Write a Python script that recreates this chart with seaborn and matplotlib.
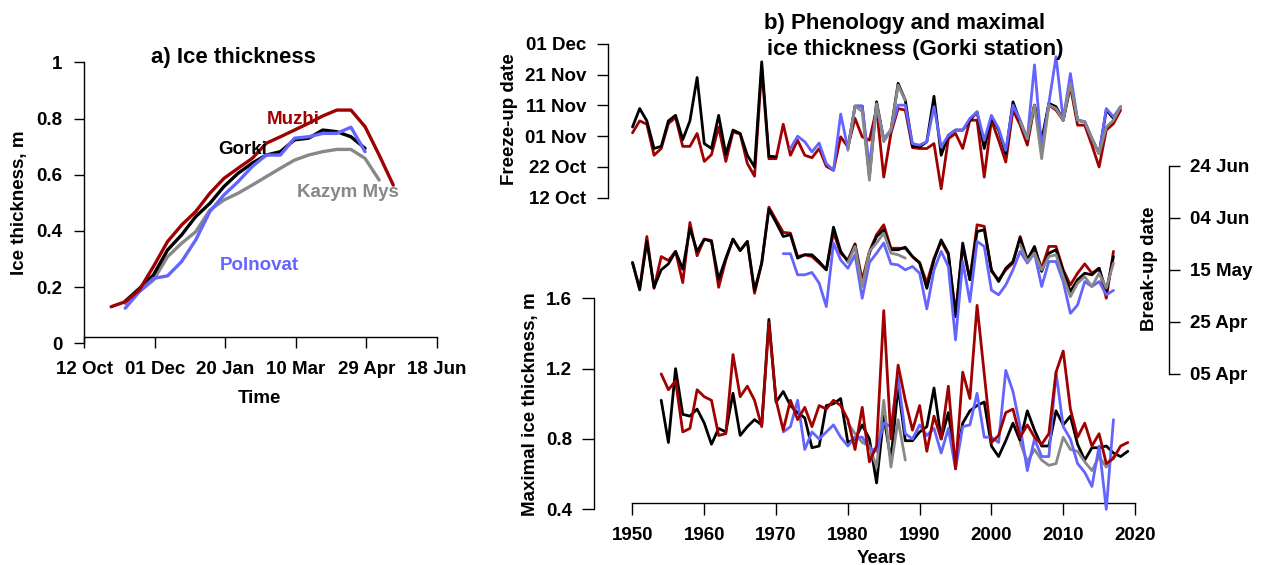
import numpy as np
import pandas as pd
import matplotlib
matplotlib.use("Agg")
import matplotlib.pyplot as plt
import seaborn as sns

# ---------------- data: panel a (ice thickness, m) ----------------
# x = days after 12 Oct
days_muzhi = [19, 29, 39, 49, 59, 69, 79, 89, 99, 109, 119, 129, 139, 149, 159, 169, 179, 189, 199, 209, 219]
thk_muzhi = [0.13, 0.148, 0.19, 0.273, 0.362, 0.421, 0.469, 0.534, 0.587, 0.623, 0.658, 0.712, 0.735,
             0.759, 0.783, 0.809, 0.83, 0.83, 0.771, 0.67, 0.563]
days_gorki = [29, 39, 49, 59, 69, 79, 89, 99, 109, 119, 129, 139, 149, 159, 169, 179, 189, 199]
thk_gorki = [0.15, 0.195, 0.243, 0.332, 0.386, 0.451, 0.498, 0.558, 0.605, 0.641, 0.67, 0.682, 0.724,
             0.73, 0.759, 0.753, 0.735, 0.694]
days_poln = [29, 39, 49, 59, 69, 79, 89, 99, 109, 119, 129, 139, 149, 159, 169, 179, 189, 199]
thk_poln = [0.125, 0.184, 0.231, 0.24, 0.291, 0.368, 0.469, 0.528, 0.575, 0.629, 0.67, 0.67, 0.73,
            0.735, 0.747, 0.747, 0.769, 0.682]
days_kazym = [29, 39, 49, 59, 69, 79, 89, 99, 109, 119, 129, 139, 149, 159, 169, 179, 189, 199, 209]
thk_kazym = [0.142, 0.184, 0.225, 0.308, 0.356, 0.397, 0.474, 0.51, 0.534, 0.563, 0.593, 0.623, 0.652,
             0.67, 0.682, 0.69, 0.69, 0.658, 0.581]
a_xticks = [0, 50, 100, 150, 200, 250]
a_xlabels = ["12 Oct", "01 Dec", "20 Jan", "10 Mar", "29 Apr", "18 Jun"]
a_yticks = [0, 0.2, 0.4, 0.6, 0.8, 1.0]
a_ylabels = ["0", "0.2", "0.4", "0.6", "0.8", "1"]

# ---------------- data: panel b ----------------
N = None
# Freeze-up date, days after 1 Oct
fr_gorki_start = 1950
fr_gorki = [34.0, 40.0, 36.0, 27.0, 27.7, 36.0, 37.8, 29.9, 36.0, 50.1,
            28.6, 27.0, 37.8, 25.1, 33.0, 31.9, 24.8, 21.0, 55.2, 24.5,
            24.3, N, N, N, N, N, N, N, N, N,
            27.0, 40.8, 40.8, 18.0, 42.2, 29.7, 33.0, 48.2, 42.7, 27.7,
            27.5, 29.2, 44.0, 24.8, 31.3, 33.0, 33.0, 36.2, 38.9, 27.0,
            37.3, 33.0, 25.3, 42.2, 35.7, 30.2, 41.1, 29.7, 41.7, 40.6,
            36.2, 48.2, 36.2, 35.7, 30.2, 25.3, 39.5, 36.8, 40.6]
fr_muzhi_start = 1950
fr_muzhi = [32.1, 36.0, 34.9, 24.8, 27.0, 35.1, 37.1, 27.7, 27.7, 31.9,
            22.8, 25.0, 34.0, 22.8, 32.4, 31.7, 22.1, 18.0, 53.1, 23.7,
            23.7, 34.9, 24.8, 29.7, 24.8, 24.0, 27.0, 21.2, 19.9, 30.8,
            27.5, 36.8, 30.8, 29.7, 40.0, 17.7, 31.9, 40.0, 39.5, 27.3,
            27.0, 27.0, 28.6, 13.9, 30.2, 31.9, 27.0, 36.2, 36.2, 17.7,
            36.2, 29.7, 22.6, 39.5, 34.6, 28.1, 41.1, 28.6, 41.1, 39.5,
            36.2, 47.1, 34.6, 34.6, 28.1, 21.0, 33.0, 35.1, 39.5]
fr_poln_start = 1972
fr_poln = [27.0, 31.0, 29.2, 25.9, 28.8, 22.1, 19.9, 38.2,
           27.0, 40.8, 40.8, 21.0, 41.1, 30.2, 33.0, 41.1, 41.1, 28.6,
           28.1, 29.2, 40.6, 27.5, 31.3, 33.0, 33.0, 36.8, 38.9, 29.7,
           37.8, 33.5, 26.4, 41.1, 36.2, 30.2, 54.2, 27.0, 41.7, 56.9,
           36.2, 51.4, 36.2, 35.7, 30.2, 25.3, 40.0, 37.3, 40.6]
fr_kazym_start = 1980
fr_kazym = [26.4, 40.8, 39.0, 16.7, 41.6, 29.2, 33.0, 47.6, 42.7,
            N, N, N, N, N, N, N, N, N, N, N, N, N, N, N,
            35.7, 30.2, 41.1, 23.7, 41.1, 40.0, 36.2, 48.2, 36.2, 35.7,
            30.2, 25.3, 34.0, 36.2, 40.6]
fr_ticks = [11, 21, 31, 41, 51, 61]
fr_labels = ["12 Oct", "22 Oct", "01 Nov", "11 Nov", "21 Nov", "01 Dec"]

# Break-up date, days after 1 Apr
br_gorki_start = 1950
br_gorki = [46.8, 36.3, 54.9, 37.3, 44.0, 46.3, 51.1, 44.3, 60.0, 51.1,
            55.8, 54.9, 40.4, 48.5, 55.8, 51.4, 54.9, 36.1, 46.6, 67.3,
            62.2, 56.8, 57.5, 48.5, 49.8, 49.8, 47.2, 44.0, 60.4, 51.1,
            47.2, 53.5, 38.0, 50.5, 56.8, 59.4, 51.7, 51.7, 52.7, 49.1,
            46.6, 36.9, 47.8, 55.5, 50.4, 26.0, 54.3, 40.2, 58.7, 59.4,
            44.0, 39.5, 44.6, 47.2, 56.2, 47.8, 53.0, 43.4, 50.4, 51.7,
            43.4, 35.7, 40.2, 42.7, 42.1, 44.6, 35.7, 49.1]
br_muzhi_start = 1950
br_muzhi = [46.8, 36.9, 56.8, 36.9, 49.1, 47.6, 51.1, 39.1, 62.2, 49.4,
            55.8, 55.3, 37.3, 47.8, 55.8, 51.4, 54.9, 35.0, 46.6, 68.1,
            63.2, 58.4, 58.1, 49.1, 49.8, 49.1, 46.6, 44.0, 58.4, 50.4,
            47.8, 54.0, 40.0, 51.0, 57.5, 61.3, 52.3, 52.3, 52.3, 49.1,
            46.8, 38.9, 48.5, 54.9, 49.8, 27.3, 53.0, 40.2, 61.3, 60.7,
            43.4, 40.2, 44.0, 46.6, 56.8, 47.8, 52.3, 44.6, 53.0, 53.0,
            44.0, 38.2, 42.7, 46.3, 42.7, 44.6, 33.1, 51.1]
br_poln_start = 1971
br_poln = [50.2, 50.2, 42.1, 42.1, 43.0, 38.9, 29.9, 54.3, 47.8,
           44.6, 49.8, 33.1, 46.8, 50.4, 54.3, 46.3, 45.9, 44.0, 45.3,
           42.7, 29.0, 44.0, 51.1, 45.3, 17.1, 47.2, 31.8, 54.9, 53.0,
           36.2, 34.4, 38.2, 44.0, 51.1, 46.6, 50.4, 37.6, 47.2, 47.2,
           39.5, 27.3, 30.5, 39.5, 37.6, 39.5, 34.4, 36.1]
br_kazym_start = 1980
br_kazym = [46.8, 53.0, 37.6, 51.1, 54.3, 58.1, 50.4, 49.8, 48.5,
            N, N, N, N, N, N, N, N, N, N, N, N, N, N, N,
            53.6, 47.2, 50.4, 44.0, 49.1, 49.8, 41.4, 33.7, 38.9, 41.4,
            37.6, 42.7, 37.0, 46.6]
br_ticks = [4, 24, 44, 64, 84]
br_labels = ["05 Apr", "25 Apr", "15 May", "04 Jun", "24 Jun"]

# Maximal ice thickness, m
mx_gorki_start = 1954
mx_gorki = [1.02, 0.78, 1.20, 0.94, 0.93, 0.97,
            0.89, 0.77, 0.86, 0.84, 1.06, 0.82, 0.87, 0.91, 0.88, 1.48,
            1.01, 1.07, 0.99, 0.95, 0.92, 0.75, 0.76, 0.99, 1.00, 1.03,
            0.78, 0.80, 0.88, 0.80, 0.55, 0.93, 0.68, 1.10, 0.79, 0.79,
            0.84, 0.87, 1.09, 0.80, 0.95, 0.66, 0.89, 0.96, 0.99, 1.01,
            0.76, 0.70, 0.79, 0.89, 0.79, 0.96, 0.85, 0.76, 0.76, 0.96,
            0.88, 0.93, 0.77, 0.68, 0.75, 0.75, 0.76, 0.72, 0.70, 0.73]
mx_muzhi_start = 1954
mx_muzhi = [1.17, 1.08, 1.13, 0.84, 0.86, 1.08,
            1.04, 1.02, 0.82, 0.83, 1.28, 1.04, 1.10, 1.02, 0.87, 1.46,
            1.02, 0.85, 1.02, 0.91, 0.98, 0.87, 0.99, 0.97, 1.02, 0.99,
            0.91, 0.74, 0.98, 0.67, 0.76, 1.53, 0.80, 1.22, 1.02, 0.85,
            0.99, 0.73, 0.93, 0.80, 1.10, 0.63, 1.18, 1.03, 1.56, 1.17,
            0.78, 0.82, 0.95, 0.97, 0.81, 0.88, 0.81, 0.77, 0.83, 1.18,
            1.30, 0.97, 0.81, 0.89, 0.76, 0.83, 0.66, 0.69, 0.76, 0.78]
mx_poln_start = 1971
mx_poln = [0.84, 0.87, 1.02, 0.74, 0.84, 0.80, 0.84, 0.88, 0.81,
           0.76, 0.81, 0.81, 0.75, 0.73, 0.89, 0.87, 1.15, 0.83, 0.80,
           0.88, 0.82, 0.86, 0.72, 0.86, 0.63, 0.87, 0.88, 1.06, 0.81,
           0.81, 0.78, 1.19, 1.07, 0.87, 0.62, 0.80, 0.70, 0.70, 1.18,
           0.87, 0.80, 0.66, 0.61, 0.53, 0.76, 0.40, 0.91]
mx_kazym_start = 1980
mx_kazym = [0.89, 0.83, 0.78, 0.76, 0.64, 1.02, 0.64, 0.91, 0.68,
            N, N, N, N, N, N, N, N, N, N, N, N, N, N, N,
            0.78, 0.67, 0.74, 0.68, 0.65, 0.66, 0.81, 0.74, 0.73, 0.67,
            0.62, 0.70, 0.64, 0.70]
mx_ticks = [0.4, 0.8, 1.2, 1.6]
mx_labels = ["0.4", "0.8", "1.2", "1.6"]
year_ticks = [1950, 1960, 1970, 1980, 1990, 2000, 2010, 2020]

# ---------------- style ----------------
RED, BLACK, BLUE, GRAY = "#A00000", "#000000", "#6464FF", "#888888"
sns.set_theme(style="white")
plt.rcParams["font.family"] = ["Liberation Sans", "DejaVu Sans"]
plt.rcParams["font.weight"] = "bold"
plt.rcParams["axes.edgecolor"] = "black"
plt.rcParams["axes.linewidth"] = 1.0
plt.rcParams["text.color"] = "black"
plt.rcParams["xtick.color"] = "black"
plt.rcParams["ytick.color"] = "black"
plt.rcParams["xtick.labelcolor"] = "black"
plt.rcParams["ytick.labelcolor"] = "black"
FS = 13.5
FT = 16

W, H = 1268, 565
fig = plt.figure(figsize=(W / 100, H / 100), dpi=100)


def rect(x0, y0, x1, y1):
    return [x0 / W, 1 - y1 / H, (x1 - x0) / W, (y1 - y0) / H]


def ftext(x, y, s, **kw):
    kw.setdefault("color", "black")
    fig.text(x / W, 1 - y / H, s, fontsize=kw.pop("fontsize", FS), fontweight="bold", **kw)


def draw(ax, x, vals, color, lw):
    df = pd.DataFrame({"x": np.asarray(x, dtype=float), "v": np.array(vals, dtype=float)})
    seg = df["v"].isna().cumsum()
    ok = df["v"].notna()
    for _, g in df[ok].groupby(seg[ok]):
        sns.lineplot(data=g, x="x", y="v", ax=ax, color=color, lw=lw, legend=False,
                     estimator=None, sort=False)
    for ln in ax.lines:
        ln.set_clip_on(False)
        ln.set_solid_joinstyle("round")
    ax.set_xlabel("")
    ax.set_ylabel("")


def years(start, vals):
    return list(range(start, start + len(vals)))


# ---------------- panel a ----------------
axa = fig.add_axes(rect(84.3, 62.3, 437, 343.3))
axa.patch.set_alpha(0)
draw(axa, days_kazym, thk_kazym, GRAY, 2.4)
draw(axa, days_gorki, thk_gorki, BLACK, 2.4)
draw(axa, days_poln, thk_poln, BLUE, 2.4)
draw(axa, days_muzhi, thk_muzhi, RED, 2.4)
axa.set_xlim(0, 250)
axa.set_ylim(0, 1)
for s in ["top", "right"]:
    axa.spines[s].set_visible(False)
axa.spines["bottom"].set_position(("axes", 6 / 281))
axa.set_xticks(a_xticks, a_xlabels)
axa.set_yticks(a_yticks, a_ylabels)
axa.tick_params(axis="x", length=7.7, width=1, labelsize=FS, pad=9.6, direction="out", bottom=True)
axa.tick_params(axis="y", length=7.4, width=1, labelsize=FS, pad=8.5, direction="out", left=True)
ftext(233.8, 63.3, "a) Ice thickness", fontsize=FT, ha="center", va="baseline")
ftext(259.3, 402.7, "Time", ha="center", va="baseline")
ftext(20, 203, "Ice thickness, m", rotation=90, ha="center", va="center")
ftext(292.8, 124, "Muzhi", color=RED, ha="center", va="baseline")
ftext(243, 154, "Gorki", color=BLACK, ha="center", va="baseline")
ftext(347.5, 196.7, "Kazym Mys", color=GRAY, ha="center", va="baseline")
ftext(259.7, 270, "Polnovat", color=BLUE, ha="center", va="baseline")

# ---------------- panel b ----------------
XL, XR = 632.5, 1135

# x axis
axx = fig.add_axes(rect(XL, 502.3, XR, 503.3))
axx.patch.set_alpha(0)
for s in ["top", "right", "left"]:
    axx.spines[s].set_visible(False)
axx.set_xlim(1950, 2020)
axx.set_yticks([])
axx.set_xticks(year_ticks, [str(y) for y in year_ticks])
axx.tick_params(axis="x", length=8.6, width=1, labelsize=FS, pad=8.2, direction="out", bottom=True)

# maximal ice thickness
axm = fig.add_axes(rect(XL, 298.3, XR, 509.3))
axm.patch.set_alpha(0)
draw(axm, years(mx_gorki_start, mx_gorki), mx_gorki, BLACK, 2.0)
draw(axm, years(mx_kazym_start, mx_kazym), mx_kazym, GRAY, 2.0)
draw(axm, years(mx_poln_start, mx_poln), mx_poln, BLUE, 2.0)
draw(axm, years(mx_muzhi_start, mx_muzhi), mx_muzhi, RED, 2.0)
axm.set_xlim(1950, 2020)
axm.set_ylim(0.4, 1.6)
for s in ["top", "right", "bottom"]:
    axm.spines[s].set_visible(False)
axm.spines["left"].set_position(("outward", 38.5 * 0.72))
axm.set_xticks([])
axm.set_yticks(mx_ticks, mx_labels)
axm.tick_params(axis="y", length=8.6, width=1, labelsize=FS, pad=7.2, direction="out", left=True)

# freeze-up
axf = fig.add_axes(rect(XL, 44, XR, 197.7))
axf.patch.set_alpha(0)
draw(axf, years(fr_muzhi_start, fr_muzhi), fr_muzhi, RED, 2.0)
draw(axf, years(fr_gorki_start, fr_gorki), fr_gorki, BLACK, 2.0)
draw(axf, years(fr_poln_start, fr_poln), fr_poln, BLUE, 2.0)
draw(axf, years(fr_kazym_start, fr_kazym), fr_kazym, GRAY, 2.0)
axf.set_xlim(1950, 2020)
axf.set_ylim(11, 61)
for s in ["top", "right", "bottom"]:
    axf.spines[s].set_visible(False)
axf.spines["left"].set_position(("outward", 24.5 * 0.72))
axf.set_xticks([])
axf.set_yticks(fr_ticks, fr_labels)
axf.tick_params(axis="y", length=7.9, width=1, labelsize=FS, pad=7.9, direction="out", left=True)

# break-up
axb = fig.add_axes(rect(XL, 165.7, XR, 374))
axb.patch.set_alpha(0)
draw(axb, years(br_muzhi_start, br_muzhi), br_muzhi, RED, 2.0)
draw(axb, years(br_gorki_start, br_gorki), br_gorki, BLACK, 2.0)
draw(axb, years(br_poln_start, br_poln), br_poln, BLUE, 2.0)
draw(axb, years(br_kazym_start, br_kazym), br_kazym, GRAY, 2.0)
axb.set_xlim(1950, 2020)
axb.set_ylim(4, 84)
for s in ["top", "left", "bottom"]:
    axb.spines[s].set_visible(False)
axb.spines["right"].set_position(("outward", 34 * 0.72))
axb.set_xticks([])
axb.yaxis.tick_right()
axb.set_yticks(br_ticks, br_labels)
axb.tick_params(axis="y", length=7.9, width=1, labelsize=FS, pad=7.2, direction="out",
                right=True, left=False, labelright=True, labelleft=False)

ftext(905, 29.5, "b) Phenology and maximal", fontsize=FT, ha="center", va="baseline")
ftext(915, 55, "ice thickness (Gorki station)", fontsize=FT, ha="center", va="baseline")
ftext(510, 119, "Freeze-up date", rotation=90, ha="center", va="center")
ftext(530, 404, "Maximal ice thickness, m", rotation=90, ha="center", va="center")
ftext(1150, 269, "Break-up date", rotation=90, ha="center", va="center")
ftext(882, 563, "Years", ha="center", va="baseline")

fig.savefig("out.png", dpi=100)
